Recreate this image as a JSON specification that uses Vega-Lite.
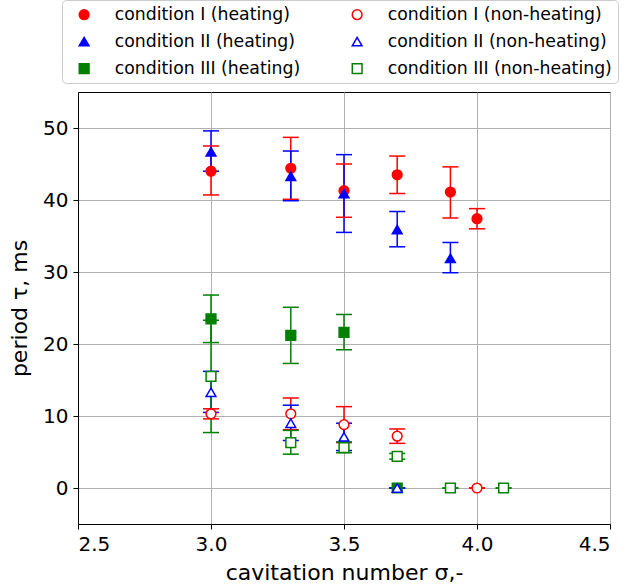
{
  "$schema": "https://vega.github.io/schema/vega-lite/v6.json",
  "width": 532,
  "height": 432,
  "autosize": "none",
  "padding": {"left": 78, "top": 92, "right": 17, "bottom": 64},
  "config": {
    "font": "DejaVu Sans",
    "view": {"stroke": "black", "strokeWidth": 1},
    "axis": {
      "labelFont": "DejaVu Sans", "titleFont": "DejaVu Sans",
      "labelFontSize": 20, "titleFontSize": 22,
      "labelColor": "black", "titleColor": "black",
      "titleFontWeight": "normal",
      "domainColor": "black", "tickColor": "black", "tickSize": 5, "labelPadding": 5,
      "gridColor": "#b0b0b0", "gridWidth": 1, "gridOpacity": 1
    }
  },
  "data": {"values": [
    {"series": "condition I (heating)", "x": 3.0, "y": 44.0, "lo": 40.7, "hi": 47.5},
    {"series": "condition I (heating)", "x": 3.3, "y": 44.4, "lo": 40.1, "hi": 48.7},
    {"series": "condition I (heating)", "x": 3.5, "y": 41.3, "lo": 37.6, "hi": 45.0},
    {"series": "condition I (heating)", "x": 3.7, "y": 43.5, "lo": 40.9, "hi": 46.1},
    {"series": "condition I (heating)", "x": 3.9, "y": 41.1, "lo": 37.5, "hi": 44.6},
    {"series": "condition I (heating)", "x": 4.0, "y": 37.4, "lo": 36.0, "hi": 38.8},
    {"series": "condition II (heating)", "x": 3.0, "y": 46.7, "lo": 44.0, "hi": 49.6},
    {"series": "condition II (heating)", "x": 3.3, "y": 43.3, "lo": 39.9, "hi": 46.8},
    {"series": "condition II (heating)", "x": 3.5, "y": 40.9, "lo": 35.5, "hi": 46.3},
    {"series": "condition II (heating)", "x": 3.7, "y": 35.9, "lo": 33.5, "hi": 38.4},
    {"series": "condition II (heating)", "x": 3.9, "y": 31.9, "lo": 29.9, "hi": 34.1},
    {"series": "condition III (heating)", "x": 3.0, "y": 23.5, "lo": 20.2, "hi": 26.8},
    {"series": "condition III (heating)", "x": 3.3, "y": 21.2, "lo": 17.3, "hi": 25.1},
    {"series": "condition III (heating)", "x": 3.5, "y": 21.6, "lo": 19.2, "hi": 24.1},
    {"series": "condition III (heating)", "x": 3.7, "y": 0, "lo": 0, "hi": 0},
    {"series": "condition I (non-heating)", "x": 3.0, "y": 10.3, "lo": 9.6, "hi": 11.0},
    {"series": "condition I (non-heating)", "x": 3.3, "y": 10.3, "lo": 8.1, "hi": 12.5},
    {"series": "condition I (non-heating)", "x": 3.5, "y": 8.8, "lo": 6.3, "hi": 11.3},
    {"series": "condition I (non-heating)", "x": 3.7, "y": 7.2, "lo": 6.2, "hi": 8.2},
    {"series": "condition I (non-heating)", "x": 4.0, "y": 0, "lo": 0, "hi": 0},
    {"series": "condition II (non-heating)", "x": 3.0, "y": 13.3, "lo": 10.5, "hi": 16.2},
    {"series": "condition II (non-heating)", "x": 3.3, "y": 9.0, "lo": 6.6, "hi": 11.5},
    {"series": "condition II (non-heating)", "x": 3.5, "y": 7.1, "lo": 5.2, "hi": 9.0},
    {"series": "condition II (non-heating)", "x": 3.7, "y": 0, "lo": 0, "hi": 0},
    {"series": "condition III (non-heating)", "x": 3.0, "y": 15.5, "lo": 7.7, "hi": 23.3},
    {"series": "condition III (non-heating)", "x": 3.3, "y": 6.3, "lo": 4.7, "hi": 8.0},
    {"series": "condition III (non-heating)", "x": 3.5, "y": 5.6, "lo": 4.9, "hi": 6.4},
    {"series": "condition III (non-heating)", "x": 3.7, "y": 4.4, "lo": 4.0, "hi": 4.8},
    {"series": "condition III (non-heating)", "x": 3.9, "y": 0, "lo": 0, "hi": 0},
    {"series": "condition III (non-heating)", "x": 4.1, "y": 0, "lo": 0, "hi": 0}
  ]},
  "encoding": {
    "x": {"field": "x", "type": "quantitative",
      "scale": {"domain": [2.5, 4.5], "nice": false, "zero": false},
      "axis": {"values": [2.5, 3.0, 3.5, 4.0, 4.5], "format": ".1f", "title": "cavitation number σ,-", "titlePadding": 8}},
    "y": {"field": "y", "type": "quantitative",
      "scale": {"domain": [-5, 55], "nice": false, "zero": false},
      "axis": {"values": [0, 10, 20, 30, 40, 50], "title": "period τ, ms", "titlePadding": 11}},
    "stroke": {"field": "series", "type": "nominal", "title": null,
      "scale": {"domain": ["condition I (heating)", "condition I (non-heating)", "condition II (heating)", "condition II (non-heating)", "condition III (heating)", "condition III (non-heating)"],
        "range": ["#ff0000", "#ff0000", "#0000ff", "#0000ff", "#008000", "#008000"]},
      "legend": {
        "orient": "none", "legendX": -16, "legendY": -92, "columns": 2, "direction": "horizontal",
        "labelFont": "DejaVu Sans", "labelFontSize": 17.3, "labelColor": "black", "labelLimit": 300,
        "symbolSize": 95, "symbolStrokeWidth": 1.5, "symbolOpacity": 1,
        "symbolOffset": 7.5, "labelOffset": 22, "columnPadding": 40, "rowPadding": 9,
        "padding": 6, "strokeColor": "#cccccc", "cornerRadius": 4, "fillColor": "white"
      }}
  },
  "layer": [
    {
      "mark": {"type": "rule", "strokeWidth": 1.5},
      "encoding": {
        "y": {"field": "lo", "type": "quantitative"},
        "y2": {"field": "hi"}
      }
    },
    {
      "mark": {"type": "point", "shape": "M-1,0L1,0", "size": 256, "strokeWidth": 1.5, "opacity": 1},
      "encoding": {
        "y": {"field": "lo", "type": "quantitative"}
      }
    },
    {
      "mark": {"type": "point", "shape": "M-1,0L1,0", "size": 256, "strokeWidth": 1.5, "opacity": 1},
      "encoding": {
        "y": {"field": "hi", "type": "quantitative"}
      }
    },
    {
      "mark": {"type": "point", "size": 95, "strokeWidth": 1.5, "opacity": 1},
      "encoding": {
        "fill": {"field": "series", "type": "nominal", "title": null,
          "scale": {"domain": ["condition I (heating)", "condition I (non-heating)", "condition II (heating)", "condition II (non-heating)", "condition III (heating)", "condition III (non-heating)"],
            "range": ["#ff0000", "#ffffff", "#0000ff", "#ffffff", "#008000", "#ffffff"]}},
        "shape": {"field": "series", "type": "nominal", "title": null,
          "scale": {"domain": ["condition I (heating)", "condition I (non-heating)", "condition II (heating)", "condition II (non-heating)", "condition III (heating)", "condition III (non-heating)"],
            "range": ["circle", "circle", "triangle-up", "triangle-up", "square", "square"]}}
      }
    }
  ]
}
